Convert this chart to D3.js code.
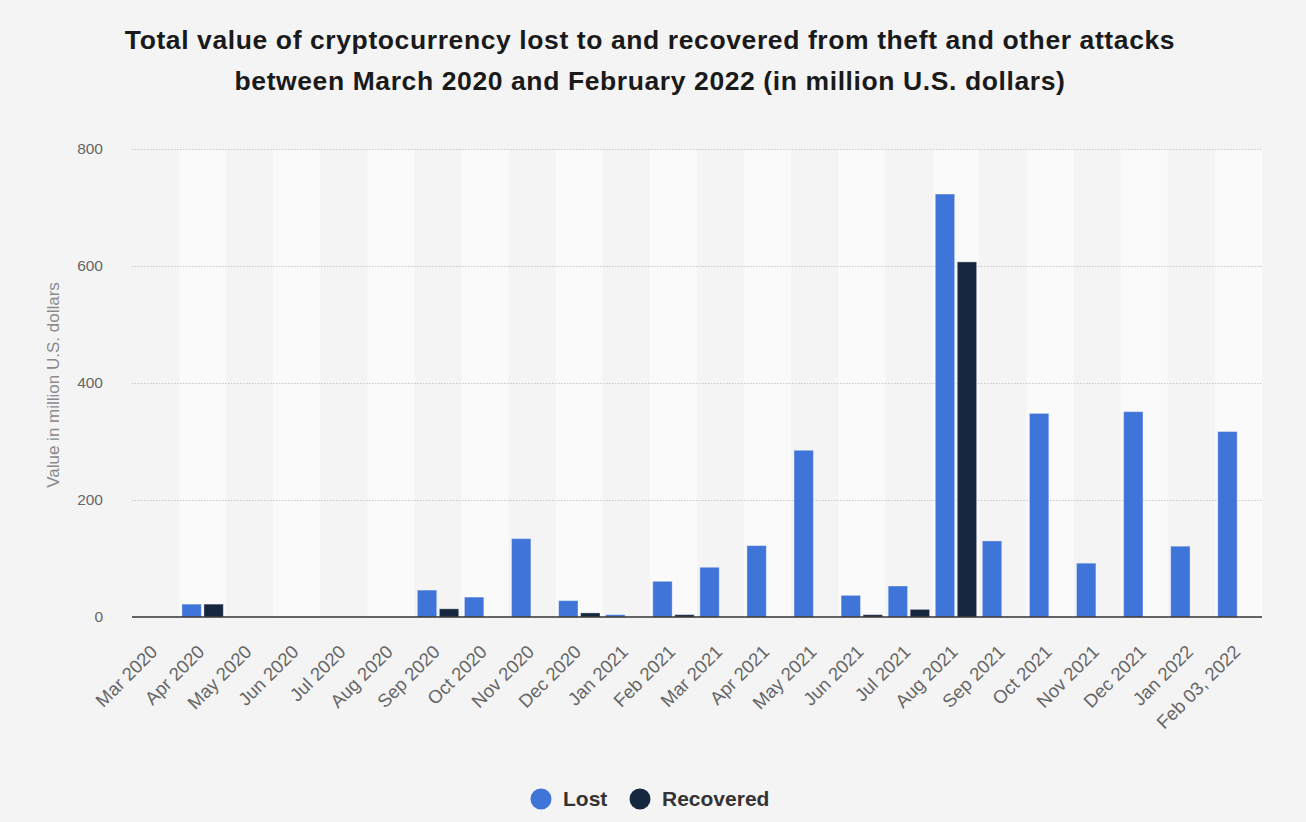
<!DOCTYPE html>
<html>
<head>
<meta charset="utf-8">
<script src="https://cdn.jsdelivr.net/npm/d3@7"></script>
<style>
  html, body { margin: 0; padding: 0; background: #f4f4f4; }
  svg { display: block; }
</style>
</head>
<body>
<script>
// Months shown on the x axis
const months = ["Mar 2020", "Apr 2020", "May 2020", "Jun 2020", "Jul 2020", "Aug 2020",
  "Sep 2020", "Oct 2020", "Nov 2020", "Dec 2020", "Jan 2021", "Feb 2021",
  "Mar 2021", "Apr 2021", "May 2021", "Jun 2021", "Jul 2021", "Aug 2021",
  "Sep 2021", "Oct 2021", "Nov 2021", "Dec 2021", "Jan 2022", "Feb 03, 2022"];

// Values in million U.S. dollars
const lost = [0, 22, 0, 0, 0, 0, 46, 34, 134, 28, 4, 61, 85, 122, 285, 37, 53, 723,
  130, 348, 92, 351, 121, 317];
const recovered = [0, 22, 0, 0, 0, 0, 14, 0, 0, 7, 0, 4, 0, 0, 0, 4, 13, 607,
  0, 0, 0, 0, 0, 0];

const seriesNames = ["Lost", "Recovered"];
const yTicks = [0, 200, 400, 600, 800];

const width = 1306, height = 822;
const margin = {top: 149, right: 44, bottom: 205, left: 132};

const colors = d3.scaleOrdinal()
  .domain(seriesNames)
  .range(["#3f74d8", "#162840"]);

const table = months.map((m, i) => ({month: m, Lost: lost[i], Recovered: recovered[i]}));

const svg = d3.select("body").append("svg")
  .attr("width", width)
  .attr("height", height)
  .style("font-family", "'Liberation Sans', Arial, sans-serif");

const x = d3.scaleBand()
  .domain(months)
  .range([margin.left, width - margin.right]);

const x1 = d3.scaleBand()
  .domain(seriesNames)
  .range([0, x.bandwidth()])
  .paddingInner(0.12)
  .paddingOuter(0.13);

const y = d3.scaleLinear()
  .domain([0, 800])
  .range([height - margin.bottom, margin.top]);

// Title
svg.append("g")
  .attr("text-anchor", "middle")
  .attr("font-weight", "bold")
  .attr("font-size", 26.5)
  .attr("letter-spacing", 0.6)
  .attr("fill", "#1a1a1a")
  .selectAll("text")
  .data(["Total value of cryptocurrency lost to and recovered from theft and other attacks",
         "between March 2020 and February 2022 (in million U.S. dollars)"])
  .join("text")
    .attr("x", 650)
    .attr("y", (d, i) => 49 + i * 41)
    .text(d => d);

// Alternating column stripes
svg.append("g")
  .selectAll("rect")
  .data(months.filter((d, i) => i % 2 === 1))
  .join("rect")
    .attr("x", d => x(d))
    .attr("y", margin.top)
    .attr("width", x.bandwidth())
    .attr("height", y(0) - margin.top)
    .attr("fill", "#fafafa");

// Y grid and ticks
const yAxis = svg.append("g")
  .attr("transform", `translate(${margin.left},0)`)
  .call(d3.axisLeft(y).tickValues(yTicks).tickSize(-(width - margin.left - margin.right)).tickPadding(29));

yAxis.select(".domain").remove();
yAxis.selectAll(".tick line")
  .attr("stroke", "#c8c8c8")
  .attr("stroke-dasharray", "1.5,1.5")
  .filter(d => d === 0).remove();
yAxis.selectAll(".tick text")
  .attr("fill", "#666")
  .attr("font-size", 15.5)
  .attr("font-family", "'Liberation Sans', Arial, sans-serif");

svg.append("text")
  .attr("transform", `translate(59,385) rotate(-90)`)
  .attr("text-anchor", "middle")
  .attr("fill", "#8a8a8a")
  .attr("font-size", 17)
  .text("Value in million U.S. dollars");

// Bars
svg.append("g")
  .selectAll("g")
  .data(table)
  .join("g")
    .attr("transform", d => `translate(${x(d.month)},0)`)
  .selectAll("rect")
  .data(d => seriesNames.map(k => ({key: k, value: d[k]})).filter(e => e.value > 0))
  .join("rect")
    .attr("x", d => x1(d.key))
    .attr("y", d => y(d.value))
    .attr("width", x1.bandwidth())
    .attr("height", d => y(0) - y(d.value))
    .attr("fill", d => colors(d.key))
    .attr("stroke", "rgba(255,255,255,0.35)")
    .attr("stroke-width", 1);

// Baseline
svg.append("line")
  .attr("x1", margin.left)
  .attr("x2", width - margin.right)
  .attr("y1", y(0))
  .attr("y2", y(0))
  .attr("stroke", "#333")
  .attr("stroke-width", 1.5);

// X labels
svg.append("g")
  .attr("font-size", 18.5)
  .attr("fill", "#666")
  .attr("text-anchor", "end")
  .selectAll("text")
  .data(months)
  .join("text")
    .attr("transform", d => `translate(${x(d) + x.bandwidth() / 2 + 3},${y(0) + 36}) rotate(-45)`)
    .text(d => d);

// Legend
const legend = svg.append("g")
  .attr("font-size", 21)
  .attr("font-weight", "bold")
  .attr("fill", "#333")
  .selectAll("g")
  .data(seriesNames)
  .join("g")
    .attr("transform", (d, i) => `translate(${i === 0 ? 541 : 640},799)`);

legend.append("circle")
  .attr("r", 10.5)
  .attr("fill", d => colors(d));

legend.append("text")
  .attr("x", 22)
  .attr("dy", "0.35em")
  .text(d => d);
</script>
</body>
</html>
